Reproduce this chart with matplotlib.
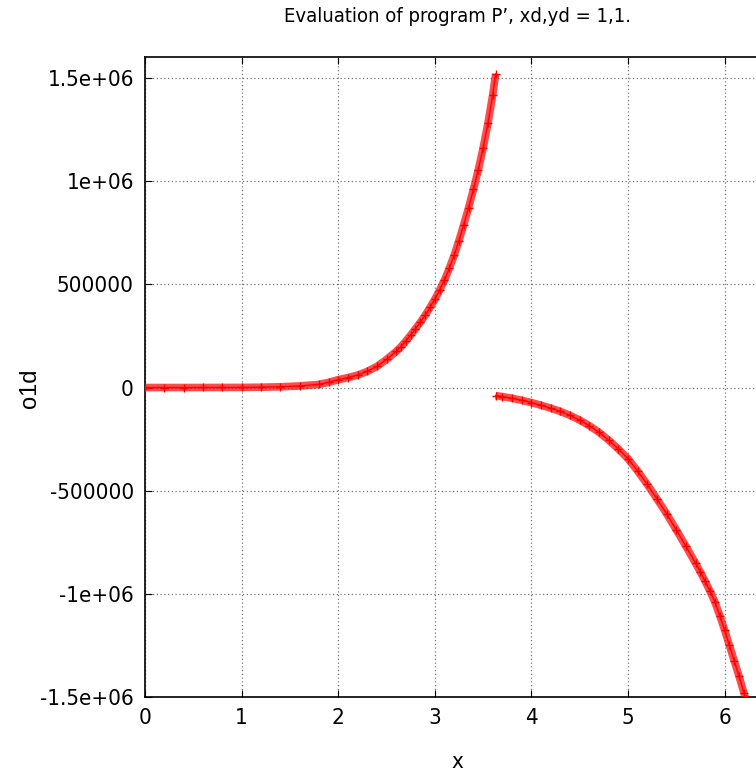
import matplotlib
matplotlib.use("Agg")
import matplotlib.pyplot as plt
from matplotlib import font_manager

# o1d sampled along x, left branch (before the jump)
x_left = [0.0, 0.2, 0.4, 0.6, 0.8, 1.0, 1.2, 1.4, 1.6, 1.8, 1.9, 2.0, 2.1,
          2.2, 2.3, 2.4, 2.5, 2.6, 2.65, 2.7, 2.75, 2.8, 2.85, 2.9, 2.95,
          3.0, 3.05, 3.1, 3.15, 3.2, 3.25, 3.3, 3.35, 3.4, 3.45, 3.5, 3.55,
          3.6, 3.63]
y_left = [0, 0, 0, 200, 300, 500, 1500, 3500, 7500, 15000, 25000, 38000,
          48000, 60000, 78000, 102000, 136000, 175000, 198000, 225000,
          254000, 285000, 316000, 350000, 388000, 427000, 472000, 520000,
          578000, 640000, 712000, 790000, 872000, 960000, 1055000, 1160000,
          1280000, 1420000, 1520000]

# right branch (after the jump)
x_right = [3.63, 3.7, 3.8, 3.9, 4.0, 4.1, 4.2, 4.3, 4.4, 4.5, 4.6, 4.7, 4.8,
           4.9, 5.0, 5.1, 5.2, 5.3, 5.4, 5.5, 5.6, 5.7, 5.75, 5.8, 5.85, 5.9,
           5.95, 6.0, 6.05, 6.1, 6.15, 6.2, 6.22]
y_right = [-39000, -44000, -52000, -62000, -73000, -86000, -100000, -116000,
           -135000, -158000, -185000, -217000, -255000, -298000, -345000,
           -405000, -470000, -540000, -612000, -690000, -770000, -852000,
           -895000, -940000, -988000, -1040000, -1105000, -1175000, -1250000,
           -1325000, -1400000, -1480000, -1510000]

xticks = [0, 1, 2, 3, 4, 5, 6]
yticks = [-1500000, -1000000, -500000, 0, 500000, 1000000, 1500000]
ytick_labels = ["-1.5e+06", "-1e+06", "-500000", "0", "500000", "1e+06", "1.5e+06"]

narrow = font_manager.FontProperties(family=["Liberation Sans Narrow", "DejaVu Sans"],
                                     stretch="condensed", size=16)
title_font = narrow.copy()
title_font.set_size(14.5)

fig = plt.figure(figsize=(7.56, 7.73), dpi=100)
ax = fig.add_axes([145 / 756, 76 / 773, 611 / 756, 640 / 773])

for xs, ys in [(x_left, y_left), (x_right, y_right)]:
    ax.plot(xs, ys, color="red", lw=5.5, alpha=0.7, solid_capstyle="butt", zorder=3)
    ax.plot(xs, ys, color="red", lw=1, marker="+", ms=6, mew=1, zorder=4)

ax.set_xlim(0, 611 / 96.6)
ax.set_ylim(-1500000, 1500000 + 21 / 103 * 500000)
ax.set_xticks(xticks)
ax.set_yticks(yticks)
ax.set_xticklabels([str(t) for t in xticks], fontproperties=narrow)
ax.set_yticklabels(ytick_labels, fontproperties=narrow)
ax.tick_params(direction="in", length=5, width=0.8, top=True, pad=8, colors="black")
ax.grid(True, color="#777777", linestyle=(0, (1, 2)), linewidth=0.9)
ax.spines["right"].set_visible(False)
for s in ["left", "bottom", "top"]:
    ax.spines[s].set_linewidth(1.2)

fig.text(457 / 756, 1 - 17 / 773, "Evaluation of program P\u2019, xd,yd = 1,1.",
         fontproperties=title_font, ha="center", va="center")
fig.text(457 / 756, 1 - 762 / 773, "x", fontproperties=narrow,
         ha="center", va="center")
fig.text(30 / 756, 1 - 388 / 773, "o1d", family=["Liberation Sans", "DejaVu Sans"],
         fontsize=17, rotation=90, ha="center", va="center")

fig.savefig("out.png", dpi=100)
